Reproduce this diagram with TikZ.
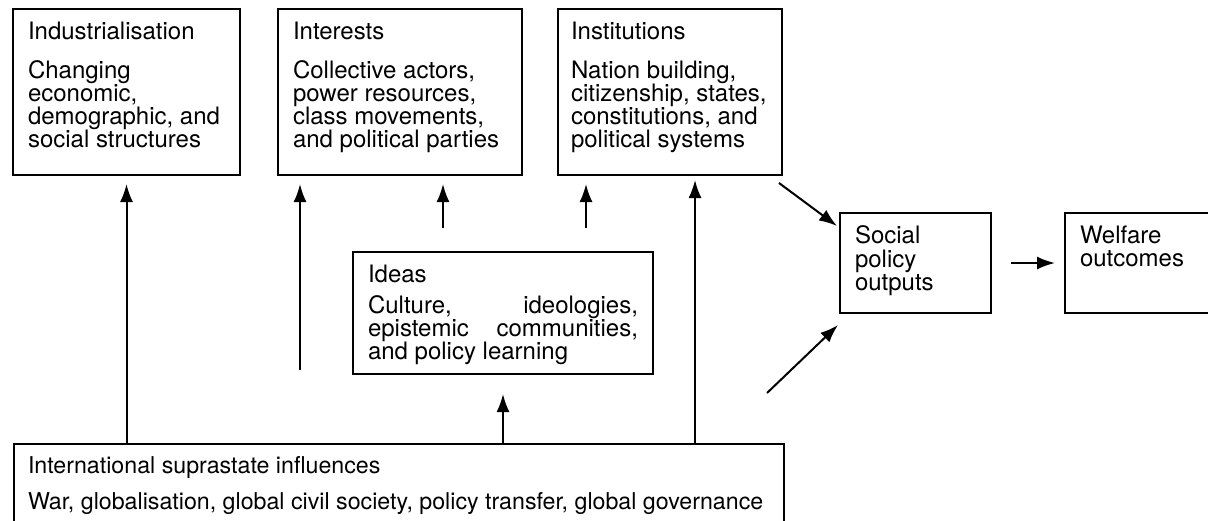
\documentclass[tikz,border=0pt]{standalone}
\usepackage{fontspec}
\setmainfont{TeX Gyre Heros}
\usetikzlibrary{arrows.meta}
\setlength{\parskip}{0pt}
\tikzset{arr/.style = {line width=1pt, -{Latex[length=9pt, width=6.5pt]}}}
\tikzset{factor/.style = {draw, line width=1pt, anchor=north west,
                          inner xsep=7.5pt, inner ysep=6.5pt,
                          font=\fontsize{12}{11.6}\selectfont}}
% width, height, gap, title, body
\newcommand{\factortext}[5]{%
  \begin{minipage}[t][#2][t]{#1}\raggedright #4\par\vspace{#3}#5\end{minipage}}
% width, height, body
\newcommand{\outtext}[3]{%
  \begin{minipage}[t][#2][t]{#1}\raggedright #3\end{minipage}}

\begin{document}
\begin{tikzpicture}[x=0.5pt, y=-0.5pt]
    \useasboundingbox (0, 0) rectangle (1208, 520);

    \node [factor] (ind) at (12, 8) {\factortext{98.5pt}{70pt}{7.8pt}{Industrialisation}
      {Changing\\ economic,\\ demographic, and\\ social structures}};
    \node [factor] (int) at (277, 8) {\factortext{107pt}{70pt}{7.8pt}{Interests}
      {Collective actors,\\ power resources,\\ class movements,\\ and political parties}};
    \node [factor, inner xsep=6.5pt] (inst) at (557, 8) {\factortext{99pt}{70pt}{7.8pt}{Institutions}
      {Nation building,\\ citizenship, states,\\ constitutions, and\\ political systems}};
    \node [factor] (ideas) at (352, 251) {\factortext{135pt}{48pt}{3.9pt}{Ideas}
      {Culture, \hfill ideologies,\\ epistemic \hfill communities,\\ and policy learning}};
    \node [factor] (spo) at (839, 212) {\outtext{60.5pt}{37pt}{Social\\ policy\\ outputs}};
    \node [factor] (wel) at (1064, 212) {\outtext{60pt}{37pt}{Welfare\\ outcomes}};
    \node [factor, inner xsep=7pt, font=\fontsize{11.6}{11.4}\selectfont] (intl) at (13, 443)
      {\factortext{371pt}{35pt}{6.6pt}{International suprastate influences}
      {War, globalisation, global civil society, policy transfer, global governance}};

    \coordinate (c1) at (300, 370);
    \coordinate (c2) at (443, 228);
    \coordinate (c3) at (586, 228);
    \coordinate (c4) at (695, 0);
    \coordinate (c5) at (767, 393);

    \draw [arr, shorten >=4pt] (intl.north -| ind.south) -- (ind.south);
    \draw [arr, shorten >=4pt] (c1) -- (c1 |- int.south);
    \draw [arr, shorten >=4pt] (c2) -- (c2 |- int.south);
    \draw [arr, shorten >=4pt] (c3) -- (c3 |- inst.south);
    \draw [arr, shorten >=9.5pt] (intl.north -| ideas.south) -- (ideas.south);
    \draw [arr, shorten >=2pt] (intl.north -| c4) -- (inst.south -| c4);

    \draw [arr] ([shift={(-4, 7)}]inst.south east) -- ([shift={(-2, 14)}]spo.north west);
    \draw [arr] (c5) -- ([shift={(-1, 11)}]spo.south west);
    \draw [arr, shorten <=9.5pt, shorten >=4.5pt] (spo.east) -- (wel.west);
\end{tikzpicture}
\end{document}
